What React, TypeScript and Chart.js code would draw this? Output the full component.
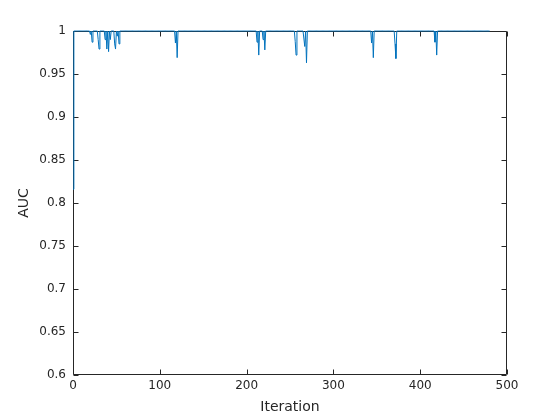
import React, { useEffect, useRef } from 'react';
import Chart from 'chart.js/auto';

// AUC is 1 on every iteration except the ones listed here
const lastIteration = 480;
const dipIterations = [0, 20, 22, 29, 30, 37, 39, 41, 43, 48, 49, 51, 53, 118, 120, 212, 214, 219, 221, 256, 257, 267, 269, 344, 346, 371, 372, 417, 419];
const dipAuc = [0.816, 0.996, 0.987, 0.99, 0.979, 0.99, 0.979, 0.976, 0.99, 0.985, 0.979, 0.994, 0.985, 0.986, 0.969, 0.987, 0.972, 0.99, 0.978, 0.988, 0.972, 0.982, 0.963, 0.986, 0.969, 0.985, 0.968, 0.987, 0.972];
const baseAuc = 1;

const xTicks = [0, 100, 200, 300, 400, 500];
const yTicks = [0.6, 0.65, 0.7, 0.75, 0.8, 0.85, 0.9, 0.95, 1];

const axisColor = '#262626';
const fontFamily = '"DejaVu Sans", sans-serif';

function buildPoints() {
    const pts: { x: number; y: number }[] = [];
    for (let i = 0; i <= lastIteration; i++) {
        const k = dipIterations.indexOf(i);
        pts.push({ x: i, y: k >= 0 ? dipAuc[k] : baseAuc });
    }
    return pts;
}

// matlab-style box with inward ticks on all four sides
const boxPlugin = {
    id: 'matlabBox',
    beforeDatasetsDraw(chart: any) {
        const { ctx, chartArea: a, scales } = chart;
        const len = 5;
        ctx.save();
        ctx.strokeStyle = axisColor;
        ctx.lineWidth = 1;
        ctx.beginPath();
        const l = Math.round(a.left) + 0.5;
        const r = Math.round(a.right) - 0.5;
        const t = Math.round(a.top) + 0.5;
        const b = Math.round(a.bottom) - 0.5;
        ctx.rect(l, t, r - l, b - t);
        xTicks.forEach((v) => {
            const px = Math.round(scales.x.getPixelForValue(v)) + 0.5;
            ctx.moveTo(px, b);
            ctx.lineTo(px, b - len);
            ctx.moveTo(px, t);
            ctx.lineTo(px, t + len);
        });
        yTicks.forEach((v) => {
            const py = Math.round(scales.y.getPixelForValue(v)) + 0.5;
            ctx.moveTo(l, py);
            ctx.lineTo(l + len, py);
            ctx.moveTo(r, py);
            ctx.lineTo(r - len, py);
        });
        ctx.stroke();
        ctx.restore();
    },
};

const App: React.FC = () => {
    const canvasRef = useRef<HTMLCanvasElement>(null);

    useEffect(() => {
        const ctx = canvasRef.current?.getContext('2d');
        if (!ctx) return;
        const chart = new Chart(ctx, {
            type: 'line',
            data: {
                datasets: [
                    {
                        data: buildPoints(),
                        borderColor: '#0072BD',
                        borderWidth: 1,
                        pointRadius: 0,
                        tension: 0,
                        fill: false,
                        clip: false as any,
                    },
                ],
            },
            options: {
                animation: false,
                responsive: true,
                maintainAspectRatio: false,
                layout: { padding: { top: 31, right: 53, left: 0, bottom: 0 } },
                plugins: {
                    legend: { display: false },
                    tooltip: { enabled: false },
                },
                scales: {
                    x: {
                        type: 'linear',
                        min: 0,
                        max: 500,
                        afterBuildTicks: (s: any) => {
                            s.ticks = xTicks.map((v) => ({ value: v }));
                        },
                        afterFit: (s: any) => {
                            s.height = 45;
                        },
                        grid: { display: false, drawTicks: false },
                        border: { display: false },
                        ticks: {
                            padding: 4,
                            color: axisColor,
                            font: { family: fontFamily, size: 12 },
                            maxRotation: 0,
                        },
                        title: {
                            display: true,
                            text: 'Iteration',
                            color: axisColor,
                            font: { family: fontFamily, size: 14 },
                            padding: { top: 0, bottom: 4 },
                        },
                    },
                    y: {
                        min: 0.6,
                        max: 1,
                        afterBuildTicks: (s: any) => {
                            s.ticks = yTicks.map((v) => ({ value: v }));
                        },
                        afterFit: (s: any) => {
                            s.width = 73;
                        },
                        grid: { display: false, drawTicks: false },
                        border: { display: false },
                        ticks: {
                            padding: 7,
                            color: axisColor,
                            font: { family: fontFamily, size: 12 },
                            callback: (v: any) => String(parseFloat(Number(v).toFixed(2))),
                        },
                        title: {
                            display: true,
                            text: 'AUC',
                            color: axisColor,
                            font: { family: fontFamily, size: 14 },
                            padding: { top: 16, bottom: 0 },
                        },
                    },
                },
            },
            plugins: [boxPlugin],
        });
        return () => chart.destroy();
    }, []);

    return (
        <div style={{ position: 'absolute', left: 0, top: 0, width: 560, height: 420, background: '#fff' }}>
            <canvas ref={canvasRef} />
        </div>
    );
};

export default App;
